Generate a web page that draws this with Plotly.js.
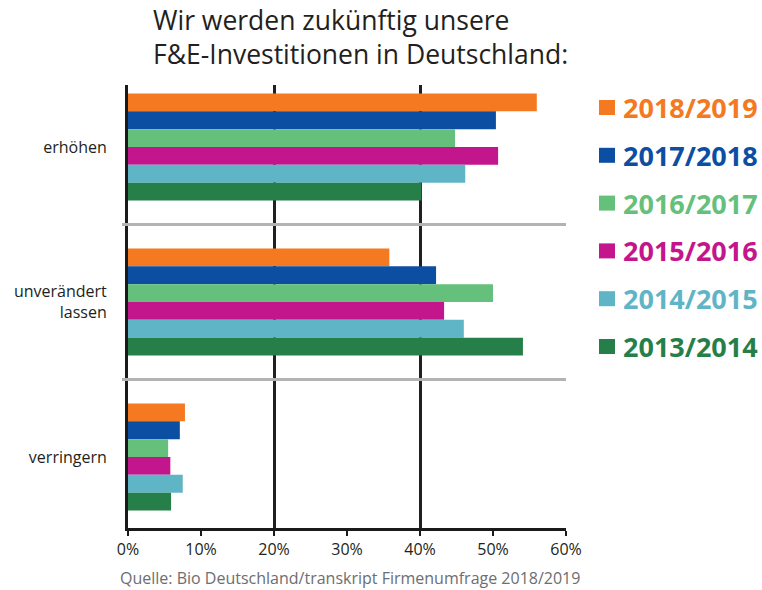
<!DOCTYPE html>
<html>
<head>
<meta charset="utf-8">
<script src="https://cdn.plot.ly/plotly-3.0.1.min.js"></script>
<style>html,body{margin:0;padding:0;background:#fff;}#chart{width:762px;height:590px;}</style>
</head>
<body>
<div id="chart"></div>
<script>
const categories = ['erhöhen', 'unverändert<br>lassen', 'verringern'];
const seriesNames = ['2018/2019', '2017/2018', '2016/2017', '2015/2016', '2014/2015', '2013/2014'];
const colors = ['#F47920', '#0C4EA2', '#64C07A', '#C4168C', '#5FB4C6', '#267F48'];
const v2018_2019 = [56.0, 35.8, 7.8];
const v2017_2018 = [50.4, 42.2, 7.1];
const v2016_2017 = [44.8, 50.0, 5.5];
const v2015_2016 = [50.7, 43.3, 5.8];
const v2014_2015 = [46.2, 46.0, 7.5];
const v2013_2014 = [40.2, 54.1, 5.9];
const seriesValues = [v2018_2019, v2017_2018, v2016_2017, v2015_2016, v2014_2015, v2013_2014];
const xTickVals = [0, 10, 20, 30, 40, 50, 60];
const xTickText = ['0%', '10%', '20%', '30%', '40%', '50%', '60%'];

const FONT = 'Open Sans, Noto Sans, sans-serif';
const W = 762, H = 590;
const M = {l: 128, r: 196, t: 85, b: 62};
const plotW = W - M.l - M.r, plotH = H - M.t - M.b;
const px2x = px => (px - M.l) / plotW;
const py2y = py => (H - M.b - py) / plotH;

const data = seriesNames.map((name, i) => ({
  type: 'bar',
  orientation: 'h',
  name: name,
  x: seriesValues[i],
  y: categories,
  marker: {color: colors[i], line: {width: 0}},
  showlegend: false,
  hoverinfo: 'x+name'
}));
// invisible helper so the overlaid grid axis (every 20%) gets drawn
data.push({type: 'scatter', mode: 'markers', x: [xTickVals[0], xTickVals[xTickVals.length - 1]], y: [categories[0], categories[0]],
  xaxis: 'x2', yaxis: 'y', marker: {opacity: 0}, showlegend: false, hoverinfo: 'skip'});

// legend built as squares + coloured bold labels
const legendShapes = [], legendAnns = [];
seriesNames.forEach((name, i) => {
  const cy = 107.5 + i * 47.8;
  legendShapes.push({type: 'rect', xref: 'paper', yref: 'paper',
    x0: px2x(599), x1: px2x(615), y0: py2y(cy + 7.5), y1: py2y(cy - 7.5),
    fillcolor: colors[i], line: {width: 0}, layer: 'above'});
  legendAnns.push({text: '<b>' + name + '</b>', xref: 'paper', yref: 'paper',
    x: px2x(621), y: py2y(cy), xanchor: 'left', yanchor: 'middle', showarrow: false,
    font: {family: FONT, size: 27, color: colors[i]}});
});

const layout = {
  width: W, height: H,
  margin: M,
  paper_bgcolor: '#fff', plot_bgcolor: '#fff',
  font: {family: FONT, color: '#222'},
  barmode: 'group',
  bargap: 0.31,
  bargroupgap: 0,
  showlegend: false,
  title: {
    text: 'Wir werden zukünftig unsere<br>F&E-Investitionen in Deutschland:',
    font: {family: FONT, size: 26.5, color: '#231f20'},
    x: 153 / W, xanchor: 'left', xref: 'container',
    y: 0.95, yanchor: 'top', yref: 'container'
  },
  xaxis: {
    range: [0, 60], autorange: false,
    tickvals: xTickVals, ticktext: xTickText,
    showgrid: false, zeroline: false,
    showline: true, linecolor: '#1a1a1a', linewidth: 3,
    ticks: 'outside', ticklen: 5, tickwidth: 2, tickcolor: '#1a1a1a',
    tickfont: {family: FONT, size: 16, color: '#231f20'},
    fixedrange: true
  },
  xaxis2: {
    overlaying: 'x', anchor: 'y', side: 'bottom',
    range: [0, 60], autorange: false,
    dtick: 20, tick0: 0,
    showgrid: true, gridcolor: '#231f20', gridwidth: 3,
    showticklabels: false, ticks: '', zeroline: false, showline: false,
    fixedrange: true
  },
  yaxis: {
    type: 'category',
    range: [2.458, -0.4], autorange: false,
    showgrid: false, zeroline: false,
    showline: true, linecolor: '#1a1a1a', linewidth: 3,
    ticks: '', ticklabelstandoff: 15,
    tickfont: {family: FONT, size: 16, color: '#231f20'},
    fixedrange: true
  },
  shapes: [
    {type: 'line', xref: 'paper', yref: 'y', x0: px2x(122), x1: 1, y0: 0.5, y1: 0.5, line: {color: '#b3b3b3', width: 3}, layer: 'above'},
    {type: 'line', xref: 'paper', yref: 'y', x0: px2x(122), x1: 1, y0: 1.5, y1: 1.5, line: {color: '#b3b3b3', width: 3}, layer: 'above'}
  ].concat(legendShapes),
  annotations: [
    {text: 'Quelle: Bio Deutschland/transkript Firmenumfrage 2018/2019', xref: 'paper', yref: 'paper',
     x: px2x(350), y: py2y(578), xanchor: 'center', yanchor: 'middle', showarrow: false,
     font: {family: FONT, size: 16, color: '#6d6e71'}}
  ].concat(legendAnns)
};

Plotly.newPlot('chart', data, layout, {displayModeBar: false, staticPlot: true});
</script>
</body>
</html>
